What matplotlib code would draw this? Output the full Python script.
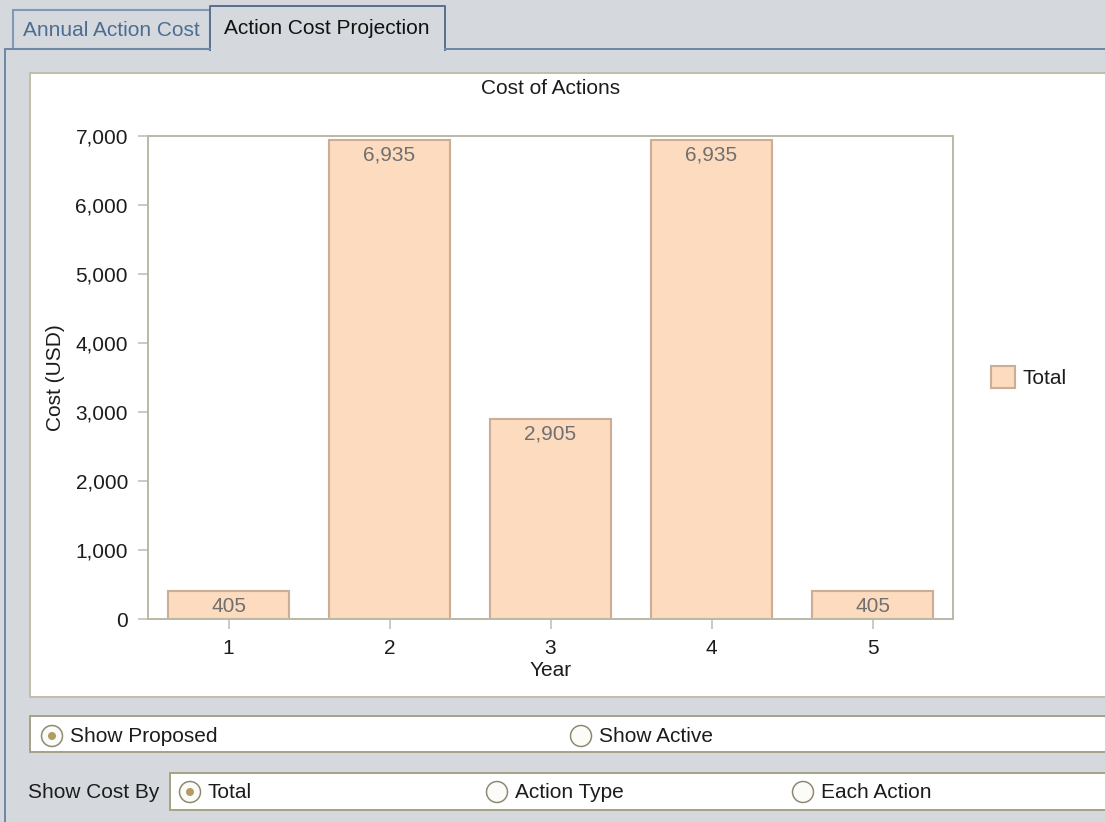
import matplotlib
matplotlib.use("Agg")
import matplotlib.pyplot as plt
from matplotlib.patches import Rectangle, Circle
from matplotlib.lines import Line2D

# ---- data -------------------------------------------------------------
years = [1, 2, 3, 4, 5]
costs = [405, 6935, 2905, 6935, 405]
y_ticks = [0, 1000, 2000, 3000, 4000, 5000, 6000, 7000]
series_name = "Total"
chart_title = "Cost of Actions"
x_title = "Year"
y_title = "Cost (USD)"
tab_labels = ["Annual Action Cost", "Action Cost Projection"]
view_options = ["Show Proposed", "Show Active"]
cost_by_options = ["Total", "Action Type", "Each Action"]

# ---- styling ----------------------------------------------------------
W, H = 1105, 822
plt.rcParams['font.family'] = ['Liberation Sans', 'DejaVu Sans']
FS = 15
BG = '#D5D9DE'
TEXT = '#1C1C1C'
SPINE = '#BDB9A9'
BAR_FILL = '#FDDBBF'
BAR_EDGE = '#CBAE96'
BOX_EDGE = '#A8A288'
PX = 0.72  # one pixel in points at dpi 100

fig = plt.figure(figsize=(W / 100, H / 100), dpi=100)
fig.patch.set_facecolor(BG)

# ---- window chrome drawn in pixel coordinates -------------------------
ui = fig.add_axes([0, 0, 1, 1], zorder=0)
ui.set_xlim(0, W)
ui.set_ylim(H, 0)
ui.axis('off')
ui.add_patch(Rectangle((0, 0), W, H, facecolor=BG, edgecolor='none'))

# tabs
ui.add_patch(Rectangle((13, 10), 197, 39, facecolor=BG, edgecolor='#8099B7',
                       linewidth=1.5 * PX * 1.4))
ui.add_patch(Rectangle((210, 6), 235, 44, facecolor=BG, edgecolor='none'))
ui.add_line(Line2D([210, 210, 445, 445], [50, 6, 6, 50], color='#58728F',
                   linewidth=2 * PX))
# panel border
ui.add_line(Line2D([5, 210], [49, 49], color='#6F88A8', linewidth=2 * PX))
ui.add_line(Line2D([445, W], [49, 49], color='#6F88A8', linewidth=2 * PX))
ui.add_line(Line2D([5, 5], [49, H], color='#6F88A8', linewidth=2 * PX))
ui.text(111, 30, tab_labels[0], ha='center', va='center', fontsize=FS,
        color='#4D6C92')
ui.text(327, 28, tab_labels[1], ha='center', va='center', fontsize=FS,
        color='#111111')

# chart panel
ui.add_patch(Rectangle((30, 73), W, 624, facecolor='white',
                       edgecolor='#C2BEAC', linewidth=2 * PX))

# option boxes
ui.add_patch(Rectangle((30, 716), W, 36, facecolor='white',
                       edgecolor=BOX_EDGE, linewidth=2 * PX))
ui.add_patch(Rectangle((170, 773), W, 37, facecolor='white',
                       edgecolor=BOX_EDGE, linewidth=2 * PX))
ui.text(28, 792, "Show Cost By", ha='left', va='center', fontsize=FS,
        color=TEXT)


def radio(x, y, label, selected):
    ui.add_patch(Circle((x, y), 10.5, facecolor='#FBFBF8', edgecolor='#8E8872',
                        linewidth=1.5 * PX))
    if selected:
        ui.add_patch(Circle((x, y), 4, facecolor='#B39B66', edgecolor='none'))
    ui.text(x + 18, y, label, ha='left', va='center', fontsize=FS, color=TEXT)


for (x, label, sel) in zip([52, 581], view_options, [True, False]):
    radio(x, 736, label, sel)
for (x, label, sel) in zip([190, 497, 803], cost_by_options,
                           [True, False, False]):
    radio(x, 792, label, sel)

# ---- bar chart --------------------------------------------------------
ax = fig.add_axes([148 / W, 1 - 619 / H, 805 / W, 483 / H], zorder=2)
ax.set_facecolor('white')
bars = ax.bar(years, costs, width=0.75, color=BAR_FILL, edgecolor=BAR_EDGE,
              linewidth=1.5 * PX * 1.4, label=series_name)
ax.set_xlim(0.5, 5.5)
ax.set_ylim(0, 7000)
ax.set_xticks(years)
ax.set_xticklabels([str(y) for y in years])
ax.set_yticks(y_ticks)
ax.set_yticklabels([f"{v:,}" for v in y_ticks])
for sp in ax.spines.values():
    sp.set_color(SPINE)
    sp.set_linewidth(2 * PX)
ax.tick_params(axis='both', colors=SPINE, labelcolor=TEXT, labelsize=FS,
               length=10 * PX, width=1.5 * PX, pad=10 * PX)

for x, v in zip(years, costs):
    ax.annotate(f"{v:,}", xy=(x, v), xytext=(0, -15),
                textcoords='offset pixels', ha='center', va='center',
                fontsize=FS, color='#707070')

ax.set_title(chart_title, y=(619 - 88) / 483, va='center', pad=0,
             fontsize=FS, color=TEXT)
ax.set_xlabel(x_title, fontsize=FS, color=TEXT)
ax.xaxis.label.set_va('center')
ax.xaxis.set_label_coords(0.5, -(670 - 619) / 483)
ax.set_ylabel(y_title, fontsize=FS, color=TEXT)
ax.yaxis.label.set_va('center')
ax.yaxis.set_label_coords(-(148 - 55) / 805, 0.5)

ax.legend(handles=[bars], labels=[series_name], loc='center left',
          bbox_to_anchor=(991 / W, 1 - 377 / H),
          bbox_transform=fig.transFigure, frameon=False, borderpad=0,
          borderaxespad=0, handlelength=24 / 20.8, handleheight=25 / 20.8,
          handletextpad=7 / 20.8, fontsize=FS, labelcolor=TEXT)

fig.savefig("out.png", dpi=100, facecolor=BG)
